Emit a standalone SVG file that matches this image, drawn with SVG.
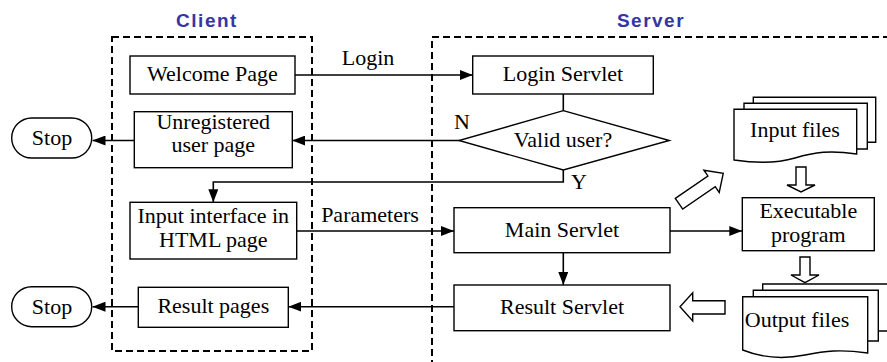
<svg xmlns="http://www.w3.org/2000/svg" width="887" height="362" viewBox="0 0 887 362">
<style>
.bx{fill:#fff;stroke:#000;stroke-width:1.4}
.t{font-family:"Liberation Serif","Times New Roman",serif;font-size:22px;fill:#000;text-anchor:middle}
.ttl{font-family:"Liberation Sans",Arial,sans-serif;font-weight:bold;font-size:19px;fill:#3535a5;text-anchor:middle;letter-spacing:1.5px}
.dash{fill:none;stroke:#000;stroke-width:2;stroke-dasharray:7,4}
.ln{fill:none;stroke:#000;stroke-width:1.6}
.ha{fill:#fff;stroke:#000;stroke-width:1.4}
</style>
<defs>
<marker id="ah" markerUnits="userSpaceOnUse" markerWidth="13" markerHeight="10" refX="13" refY="5" orient="auto">
<path d="M0,0 L13,5 L0,10 Z" fill="#000"/>
</marker>
</defs>
<rect width="887" height="362" fill="#fff"/>

<g id="client-zone">
<rect class="dash" x="112" y="37" width="200" height="314"/>
<text class="ttl" x="207" y="26.7">Client</text>
</g>
<g id="server-zone">
<path class="dash" d="M890,37 H432 V365"/>
<text class="ttl" x="651" y="26.7">Server</text>
</g>

<g id="connectors">
<line class="ln" x1="295" y1="75" x2="472.7" y2="75" marker-end="url(#ah)"/>
<line class="ln" x1="563.3" y1="94" x2="563.3" y2="110.7"/>
<line class="ln" x1="460" y1="140.5" x2="292.3" y2="140.5" marker-end="url(#ah)"/>
<line class="ln" x1="134.3" y1="140.5" x2="92.5" y2="140.5" marker-end="url(#ah)"/>
<path class="ln" d="M563.3,170 V182 H213.3 V202.3" marker-end="url(#ah)"/>
<line class="ln" x1="296.7" y1="231" x2="454" y2="231" marker-end="url(#ah)"/>
<line class="ln" x1="563.3" y1="252.7" x2="563.3" y2="285" marker-end="url(#ah)"/>
<line class="ln" x1="454" y1="306.7" x2="288.3" y2="306.7" marker-end="url(#ah)"/>
<line class="ln" x1="138.3" y1="306.7" x2="92.5" y2="306.7" marker-end="url(#ah)"/>
<line class="ln" x1="670" y1="231" x2="742.3" y2="231" marker-end="url(#ah)"/>
<text class="t" x="368" y="65">Login</text>
<text class="t" x="370" y="221.7">Parameters</text>
<text class="t" x="462" y="129.3">N</text>
<text class="t" x="579" y="189.3">Y</text>
<polygon class="ha" points="796,167 806,167 806,185 815,185 801,192 787,185 796,185"/>
<polygon class="ha" points="800,257 810,257 810,275 819,275 805,282.7 791,275 800,275"/>
<polygon class="ha" points="725,300.7 725,314 692.7,314 692.7,321 680,306.7 692.7,292.7 692.7,300.7"/>
<polygon class="ha" transform="translate(679,203.7) rotate(-34.5)" points="0,-6.5 39.5,-6.5 39.5,-13.5 53.7,0 39.5,13.5 39.5,6.5 0,6.5"/>
</g>

<g id="welcome">
<rect class="bx" x="130" y="56" width="165" height="38"/>
<text class="t" x="212.5" y="81">Welcome Page</text>
</g>
<g id="login-servlet">
<rect class="bx" x="472.7" y="56" width="180.6" height="38"/>
<text class="t" x="563" y="81">Login Servlet</text>
</g>
<g id="valid-user">
<polygon class="bx" points="563.3,110.7 669.3,140.5 563.3,170 459,140.5"/>
<text class="t" x="563" y="147">Valid user?</text>
</g>
<g id="unregistered">
<rect class="bx" x="134.3" y="111.7" width="158" height="56"/>
<text class="t" x="213.3" y="128.5">Unregistered</text>
<text class="t" x="213.3" y="152">user page</text>
</g>
<g id="stop1">
<rect class="bx" x="11.7" y="118" width="80" height="40" rx="20" ry="20"/>
<text class="t" x="52" y="145">Stop</text>
</g>
<g id="input-interface">
<rect class="bx" x="130" y="202.3" width="166.7" height="56.7"/>
<text class="t" x="213.3" y="223.3">Input interface in</text>
<text class="t" x="213.3" y="247.3">HTML page</text>
</g>
<g id="main-servlet">
<rect class="bx" x="454" y="207.7" width="216" height="45"/>
<text class="t" x="562" y="237">Main Servlet</text>
</g>
<g id="result-servlet">
<rect class="bx" x="454" y="285" width="216" height="45.7"/>
<text class="t" x="562" y="314">Result Servlet</text>
</g>
<g id="result-pages">
<rect class="bx" x="138.3" y="287.3" width="150" height="40"/>
<text class="t" x="213.3" y="312.5">Result pages</text>
</g>
<g id="stop2">
<rect class="bx" x="11.7" y="286.7" width="80" height="40" rx="20" ry="20"/>
<text class="t" x="52" y="313.5">Stop</text>
</g>
<g id="executable">
<rect class="bx" x="742.3" y="197.7" width="132" height="53"/>
<text class="t" x="808.3" y="218">Executable</text>
<text class="t" x="808.3" y="242">program</text>
</g>
<g id="input-files">
<path class="bx" d="M753.3,103.3 V97.3 H875.7 V142.3 H867.3"/>
<path class="bx" d="M744,109.3 V103.3 H867.3 V149 H856.7"/>
<path class="bx" d="M734,109.3 H856.7 V154 C830,150 815,152 795,158 C775,164 755,163 734,160 Z"/>
<text class="t" x="795" y="137">Input files</text>
</g>
<g id="output-files">
<path class="bx" d="M762.7,290 V284 H890 M878.3,331 H890"/>
<path class="bx" d="M753.3,296.7 V290.3 H878.3 V341 H867.7"/>
<path class="bx" d="M742.7,296.7 H867.7 V353 C840,349 825,351 805,355 C785,359 765,359 742.7,350 Z"/>
<text class="t" x="797" y="326.7">Output files</text>
</g>
</svg>
